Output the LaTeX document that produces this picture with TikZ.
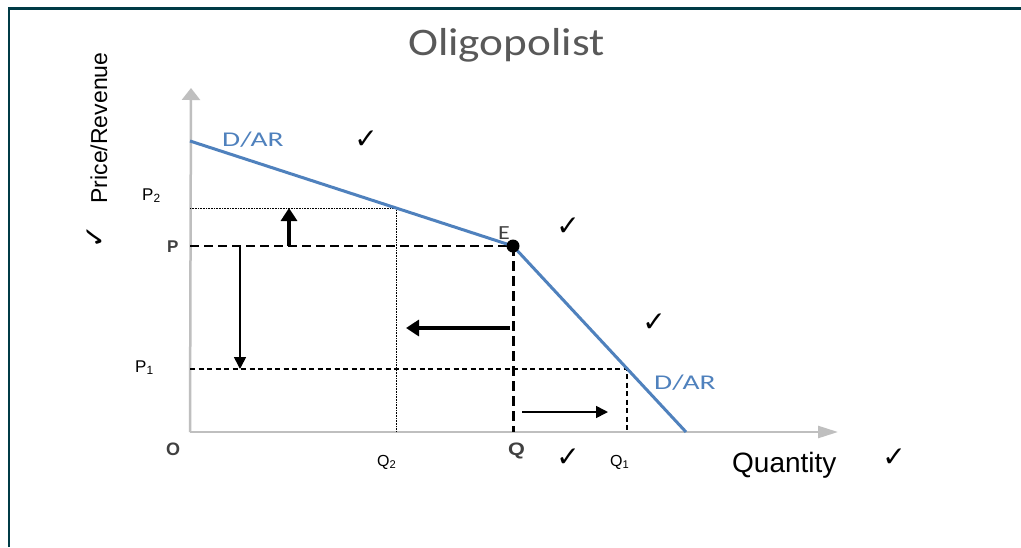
\documentclass[tikz,border=0pt]{standalone}
\usepackage{fontspec}
\usepackage{graphicx}
\setmainfont{Liberation Sans}
\newfontfamily\calibfont{Carlito}
\newfontfamily\symfont{DejaVu Sans}
\usetikzlibrary{arrows.meta}
\definecolor{frameteal}{HTML}{003B46}
\definecolor{axisgrey}{HTML}{BFBFBF}
\definecolor{demandblue}{HTML}{4F81BD}
\definecolor{labelgrey}{HTML}{404040}
\definecolor{titlegrey}{HTML}{595959}
\tikzset{
  axisline/.style={draw=axisgrey,line width=2.5pt},
  demandline/.style={draw=demandblue,line width=3pt},
  fineguide/.style={draw=black,line width=0.9pt,dash pattern=on 1pt off 0.6pt},
  thickguide/.style={draw=black,line width=2.2pt,dash pattern=on 9pt off 5pt},
  thinguide/.style={draw=black,line width=1.2pt,dash pattern=on 5pt off 3.5pt},
  boldarrow/.style={-{Triangle[length=13pt,width=16pt]},line width=4pt},
  slimarrow/.style={-{Triangle[length=12pt,width=12pt]},line width=1.6pt},
  axislabel/.style={inner sep=0pt,anchor=base west},
  curvelabel/.style={axislabel,text=demandblue,font=\calibfont\fontsize{21}{25}\selectfont},
  checkmark/.style={inner sep=0pt,font=\symfont\fontsize{28}{33}\selectfont},
  eqdot/.style={circle,fill=black,inner sep=0pt,minimum size=13pt}
}

\begin{document}
\begin{tikzpicture}[x=1pt,y=-1pt]
\useasboundingbox[fill=white] (0,0) rectangle (1021,547);
% frame
\draw[frameteal,line width=2.5pt] (9,547) -- (9,8.5) -- (1021,8.5);
% axes
\coordinate (origin) at (190,432);
\coordinate (yhead) at (191,88);
\coordinate (xhead) at (838,432);
\draw[axisline,-{Triangle[length=12pt,width=18pt]}] (origin) -- (yhead);
\draw[axisline,-{Triangle[length=20pt,width=12pt]}] (origin) -- (xhead);
% guide lines
\coordinate (dtop) at (190,141);
\coordinate (E) at (513,246);
\coordinate (dfoot) at (686,432);
\coordinate (p2) at (190,208);
\coordinate (q2top) at (396,208);
\coordinate (q2) at (396,432);
\coordinate (p) at (190,246);
\coordinate (q) at (513,432);
\coordinate (p1) at (190,369);
\coordinate (q1top) at (627,369);
\coordinate (q1) at (627,432);
\draw[fineguide] (p2) -- (q2top) -- (q2);
\draw[thickguide] (p) -- (E);
\draw[thickguide,line width=3pt,dash pattern=on 10pt off 5pt] (E) -- (q);
\draw[thinguide] (p1) -- (q1top) -- (q1);
% demand curve
\draw[demandline] (dtop) -- (E) -- (dfoot);
\node[eqdot] (edot) at (E) {};
% shifts
\coordinate (upfrom) at (289,246);
\coordinate (upto) at (289,208);
\coordinate (downfrom) at (240,246);
\coordinate (downto) at (240,369);
\coordinate (leftfrom) at (510,328);
\coordinate (leftto) at (406,328);
\coordinate (rightfrom) at (522,412);
\coordinate (rightto) at (608,412);
\draw[boldarrow] (upfrom) -- (upto);
\draw[slimarrow] (downfrom) -- (downto);
\draw[boldarrow] (leftfrom) -- (leftto);
\draw[slimarrow] (rightfrom) -- (rightto);
% labels
\node[axislabel,text=titlegrey,font=\calibfont\fontsize{39}{46}\selectfont] (title) at (408,55) {\scalebox{1.16}[1]{Oligopolist}};
\node[inner sep=0pt,rotate=90,font=\fontsize{23}{27}\selectfont] (ylabel) at (99,128) {Price/Revenue};
\node[axislabel,font=\fontsize{28}{32}\selectfont] (xlabel) at (732,472) {Quantity};
\node[curvelabel] (dartop) at (222,146) {\scalebox{1.4}[1]{D/AR}};
\node[curvelabel] (darlow) at (654,389) {\scalebox{1.4}[1]{D/AR}};
\node[axislabel,text=labelgrey,font=\calibfont\fontsize{20}{24}\selectfont] (elabel) at (498,239) {\scalebox{1.2}[1]{E}};
\node[axislabel,font=\fontsize{17}{20}\selectfont] (p2label) at (142,200) {P\textsubscript{2}};
\node[axislabel,text=labelgrey,font=\bfseries\fontsize{17}{20}\selectfont] (plabel) at (167,252) {P};
\node[axislabel,font=\fontsize{17}{20}\selectfont] (p1label) at (135,372) {P\textsubscript{1}};
\node[axislabel,text=labelgrey,font=\bfseries\fontsize{18}{21}\selectfont] (olabel) at (166,455) {O};
\node[axislabel,font=\fontsize{16}{19}\selectfont] (q2label) at (377,466) {Q\textsubscript{2}};
\node[axislabel,text=labelgrey,font=\bfseries\fontsize{18}{21}\selectfont] (qlabel) at (508,455) {\scalebox{1.2}[1]{Q}};
\node[axislabel,font=\fontsize{16}{19}\selectfont] (q1label) at (610,466) {Q\textsubscript{1}};
% ticks
\node[checkmark] (chka) at (366,140) {✓};
\node[checkmark] (chkb) at (568,227) {✓};
\node[checkmark] (chkc) at (654,323) {✓};
\node[checkmark] (chkd) at (568,458) {✓};
\node[checkmark] (chke) at (894,458) {✓};
\node[checkmark,rotate=90] (chkf) at (96,237) {✓};
\end{tikzpicture}
\end{document}
